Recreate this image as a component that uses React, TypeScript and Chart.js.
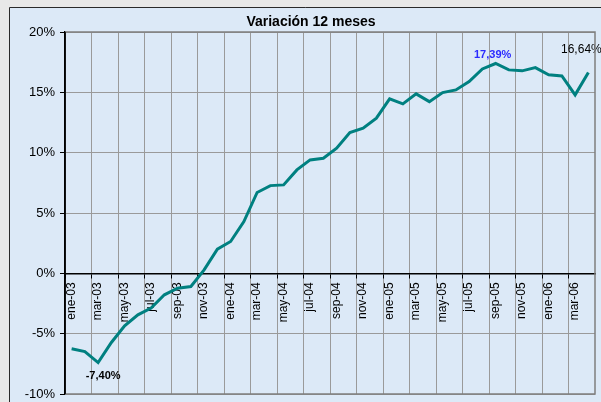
import React, { useEffect, useRef } from "react";
import { Chart, registerables } from "chart.js";

Chart.register(...registerables);

const categories: string[] = [
  "ene-03", "feb-03", "mar-03", "abr-03", "may-03", "jun-03", "jul-03", "ago-03", "sep-03", "oct-03", "nov-03", "dic-03",
  "ene-04", "feb-04", "mar-04", "abr-04", "may-04", "jun-04", "jul-04", "ago-04", "sep-04", "oct-04", "nov-04", "dic-04",
  "ene-05", "feb-05", "mar-05", "abr-05", "may-05", "jun-05", "jul-05", "ago-05", "sep-05", "oct-05", "nov-05", "dic-05",
  "ene-06", "feb-06", "mar-06", "abr-06",
];

const variacion: number[] = [
  -6.25, -6.48, -7.4, -5.73, -4.35, -3.44, -2.88, -1.78, -1.23, -1.09, 0.29, 2.0,
  2.64, 4.29, 6.7, 7.27, 7.33, 8.57, 9.4, 9.54, 10.37, 11.67, 12.03, 12.86,
  14.46, 14.04, 14.87, 14.23, 14.98, 15.2, 15.89, 16.94, 17.39, 16.86, 16.78, 17.05,
  16.45, 16.36, 14.79, 16.64,
];

const yTickMin = -10;
const yTickMax = 20;
const yTickStep = 5;

const labelIndices: number[] = [2, 32, 39];

const title = "Variación 12 meses";

const FONT = "'Liberation Sans', Arial, sans-serif";

const labelStyles = [
  { dx: 5, dy: 13, font: `bold 11px ${FONT}`, color: "#000000" },
  { dx: -3, dy: -9, font: `bold 11px ${FONT}`, color: "#2a2aff" },
  { dx: -7, dy: -23, font: `12px ${FONT}`, color: "#000000" },
];

const fmt = (v: number) => v.toFixed(2).replace(".", ",") + "%";

const zeroPad = (s: any) => {
  s.paddingLeft = 0;
  s.paddingRight = 0;
  s.paddingTop = 0;
  s.paddingBottom = 0;
};

const bgPlugin = {
  id: "bgPlugin",
  beforeDraw(chart: any) {
    const { ctx, width, height } = chart;
    ctx.save();
    ctx.fillStyle = "#e8e8e8";
    ctx.fillRect(0, 0, width, height);
    ctx.fillStyle = "#dce9f7";
    ctx.fillRect(9, 7, width - 9, height - 7);
    ctx.strokeStyle = "#2a2a2a";
    ctx.lineWidth = 1;
    ctx.beginPath();
    ctx.moveTo(9.5, height);
    ctx.lineTo(9.5, 7.5);
    ctx.lineTo(width, 7.5);
    ctx.stroke();
    ctx.font = `bold 14px ${FONT}`;
    ctx.fillStyle = "#000";
    ctx.textAlign = "center";
    ctx.textBaseline = "middle";
    ctx.fillText(title, 311, 22);
    ctx.restore();
  },
  afterDraw(chart: any) {
    const { ctx, chartArea } = chart;
    ctx.save();
    ctx.strokeStyle = "#7f7f7f";
    ctx.lineWidth = 1.5;
    ctx.beginPath();
    ctx.moveTo(chartArea.left, chartArea.top);
    ctx.lineTo(chartArea.right, chartArea.top);
    ctx.lineTo(chartArea.right, chartArea.bottom);
    ctx.lineTo(chartArea.left, chartArea.bottom);
    ctx.stroke();
    ctx.strokeStyle = "#000";
    ctx.lineWidth = 1.5;
    ctx.beginPath();
    ctx.moveTo(chartArea.left, chartArea.top);
    ctx.lineTo(chartArea.left, chartArea.bottom);
    ctx.stroke();
    ctx.restore();
  },
};

const labelPlugin = {
  id: "labelPlugin",
  afterDatasetsDraw(chart: any) {
    const { ctx } = chart;
    const meta = chart.getDatasetMeta(0);
    ctx.save();
    ctx.textAlign = "center";
    ctx.textBaseline = "middle";
    labelIndices.forEach((idx, k) => {
      const pt = meta.data[idx];
      const st = labelStyles[k];
      ctx.font = st.font;
      ctx.fillStyle = st.color;
      ctx.fillText(fmt(variacion[idx]), pt.x + st.dx, pt.y + st.dy);
    });
    ctx.restore();
  },
};

export default function App() {
  const ref = useRef<HTMLCanvasElement | null>(null);
  useEffect(() => {
    if (!ref.current) return;
    const chart = new Chart(ref.current, {
      type: "line",
      data: {
        labels: categories,
        datasets: [
          {
            data: variacion,
            borderColor: "#008080",
            borderWidth: 3,
            pointRadius: 0,
            tension: 0,
            fill: false,
          },
        ],
      },
      options: {
        responsive: false,
        animation: false,
        devicePixelRatio: 1,
        layout: { padding: { left: 0, top: 32, right: 6, bottom: 8 } },
        plugins: { legend: { display: false }, tooltip: { enabled: false }, title: { display: false } },
        scales: {
          x: {
            type: "category",
            position: { y: 0 } as any,
            offset: true,
            grid: {
              offset: true,
              color: (c: any) => (c.index % 2 === 0 ? "#9a9a9a" : "rgba(0,0,0,0)"),
              tickColor: (c: any) => (c.index % 2 === 0 ? "#000" : "rgba(0,0,0,0)"),
              tickLength: 4,
              lineWidth: 1,
            },
            border: { color: "#000", width: 1.5 },
            ticks: {
              autoSkip: false,
              maxRotation: 90,
              minRotation: 90,
              padding: 5,
              color: "#000",
              font: { family: FONT, size: 12 },
              callback: (_v: any, i: number) => (i % 2 === 0 ? categories[i] : ""),
            },
            afterFit: zeroPad,
          },
          y: {
            min: yTickMin,
            max: yTickMax,
            ticks: {
              stepSize: yTickStep,
              padding: 5,
              color: "#000",
              font: { family: FONT, size: 13 },
              callback: (v: any) => `${v}%`,
            },
            grid: {
              color: (c: any) => (c.tick && c.tick.value === 0 ? "#000" : "#9a9a9a"),
              tickColor: "#000",
              tickLength: 5,
              lineWidth: 1,
            },
            border: { color: "#000", width: 1.5 },
            afterFit: (s: any) => {
              s.width = 65;
              zeroPad(s);
            },
          },
        },
      },
      plugins: [bgPlugin, labelPlugin],
    } as any);
    return () => chart.destroy();
  }, []);
  return (
    <div style={{ position: "absolute", left: 0, top: 0, width: 601, height: 402 }}>
      <canvas ref={ref} width={601} height={402} style={{ display: "block" }} />
    </div>
  );
}
